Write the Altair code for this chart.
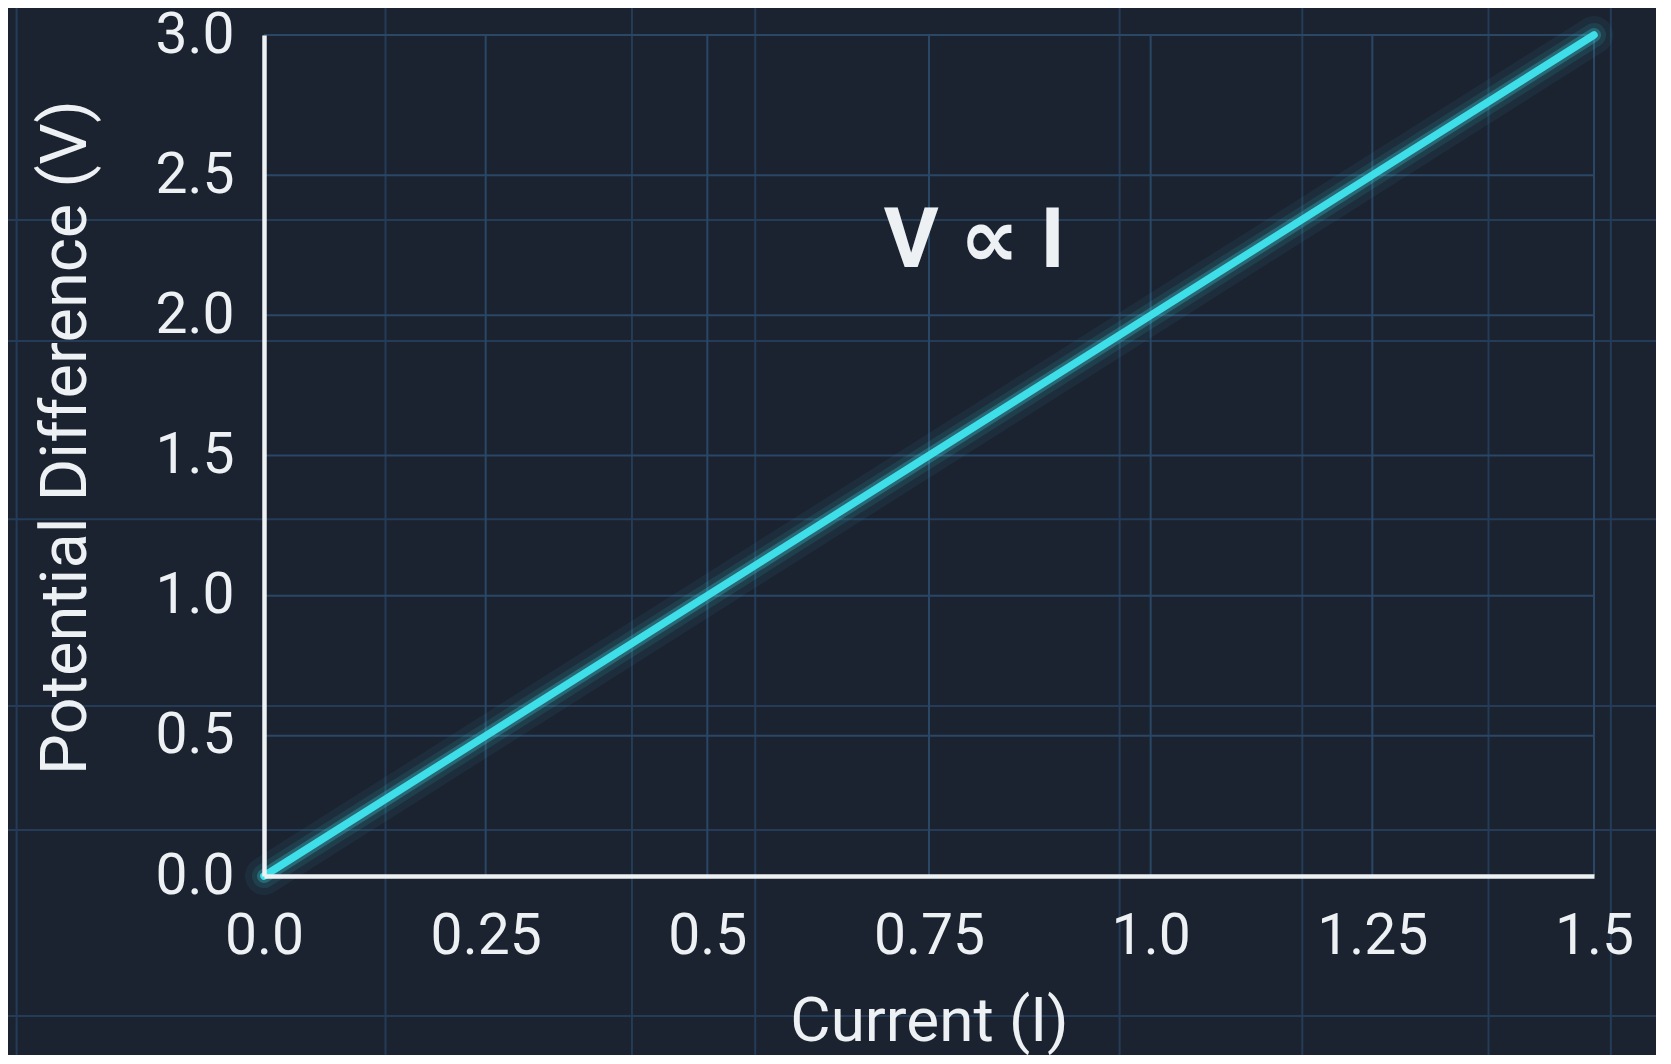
import altair as alt
import pandas as pd

# ---- data ----
current = [0.0, 0.25, 0.5, 0.75, 1.0, 1.25, 1.5]
voltage = [0.0, 0.5, 1.0, 1.5, 2.0, 2.5, 3.0]

x_ticks = [0.0, 0.25, 0.5, 0.75, 1.0, 1.25, 1.5]
x_tick_labels = ["0.0", "0.25", "0.5", "0.75", "1.0", "1.25", "1.5"]
y_ticks = [0.0, 0.5, 1.0, 1.5, 2.0, 2.5, 3.0]

# decorative blueprint grid behind the chart (data units)
bg_x = [-0.279, 0.137, 0.415, 0.554, 0.965, 1.171, 1.381, 1.519]
bg_y = [2.340, 1.908, 1.273, 0.606, 0.164, -0.499]

annotation = ["V ∝ I"]
annotation_x = [0.801]
annotation_y = [2.26]

BG = "#1b2331"
GRID = "#2a4766"
BGGRID = "#243c57"
CYAN = "#3fdfea"
WHITE = "#eef1f3"

line_df = pd.DataFrame({"I": current, "V": voltage})
bgx_df = pd.DataFrame({"x": bg_x})
bgy_df = pd.DataFrame({"y": bg_y})
gx_df = pd.DataFrame({"x": x_ticks})
gy_df = pd.DataFrame({"y": y_ticks})
ann_df = pd.DataFrame({"t": annotation, "x": annotation_x, "y": annotation_y})

label_expr = " : ".join(
    f"datum.value == {v} ? '{s}'" for v, s in zip(x_ticks, x_tick_labels)
) + " : ''"

xscale = alt.Scale(domain=[0, 1.5], nice=False, zero=False)
yscale = alt.Scale(domain=[0, 3.0], nice=False, zero=False)

x_enc = alt.X(
    "I:Q",
    scale=xscale,
    axis=alt.Axis(
        values=x_ticks,
        labelExpr=label_expr,
        title="Current (I)",
        grid=False,
        ticks=False,
        domainColor=WHITE,
        domainWidth=4.5,
        labelColor=WHITE,
        labelFont="Roboto",
        labelFontSize=57,
        labelPadding=32,
        labelFlush=False,
        titleColor=WHITE,
        titleFont="Roboto",
        titleFontSize=62,
        titleFontWeight="normal",
        titlePadding=27,
        zindex=1,
    ),
)
y_enc = alt.Y(
    "V:Q",
    scale=yscale,
    axis=alt.Axis(
        values=y_ticks,
        format=".1f",
        title="Potential Difference (V)",
        grid=False,
        ticks=False,
        domainColor=WHITE,
        domainWidth=4.5,
        labelColor=WHITE,
        labelFont="Roboto",
        labelFontSize=57,
        labelPadding=30,
        labelFlush=False,
        titleColor=WHITE,
        titleFont="Roboto",
        titleFontSize=65,
        titleFontWeight="normal",
        titlePadding=55,
        titleY=402,
        zindex=1,
    ),
)

# decorative background grid spanning the whole picture
bg_vert = alt.Chart(bgx_df).mark_rule(color=BGGRID, strokeWidth=2).encode(
    x=alt.X("x:Q", scale=xscale),
    y=alt.datum(3.3, scale=yscale),
    y2=alt.datum(-0.9),
)
bg_horz = alt.Chart(bgy_df).mark_rule(color=BGGRID, strokeWidth=2).encode(
    y=alt.Y("y:Q", scale=yscale),
    x=alt.datum(-0.35, scale=xscale),
    x2=alt.datum(1.7),
)

# plot gridlines at the tick values (drawn beneath the line)
grid_v = alt.Chart(gx_df).mark_rule(color=GRID, strokeWidth=2).encode(
    x=alt.X("x:Q", scale=xscale),
    y=alt.datum(3.0, scale=yscale),
    y2=alt.datum(0.0),
)
grid_h = alt.Chart(gy_df).mark_rule(color=GRID, strokeWidth=2).encode(
    y=alt.Y("y:Q", scale=yscale),
    x=alt.datum(0.0, scale=xscale),
    x2=alt.datum(1.5),
)

base = alt.Chart(line_df).encode(x=x_enc, y=y_enc)
glow1 = base.mark_line(color=CYAN, strokeWidth=38, opacity=0.06, strokeCap="round")
glow2 = base.mark_line(color=CYAN, strokeWidth=24, opacity=0.10, strokeCap="round")
glow3 = base.mark_line(color=CYAN, strokeWidth=14, opacity=0.25, strokeCap="round")
core = base.mark_line(color=CYAN, strokeWidth=7.5, strokeCap="round")

text = alt.Chart(ann_df).mark_text(
    font="Roboto, DejaVu Sans",
    fontSize=84,
    fontWeight="bold",
    color=WHITE,
    align="center",
    baseline="middle",
).encode(
    x=alt.X("x:Q", scale=xscale),
    y=alt.Y("y:Q", scale=yscale),
    text="t:N",
)

chart = (
    alt.layer(bg_vert, bg_horz, grid_v, grid_h, glow1, glow2, glow3, core, text)
    .properties(
        width=1330,
        height=841,
        background=BG,
        padding={"left": 256, "top": 27, "right": 62, "bottom": 179},
        autosize=alt.AutoSizeParams(type="none"),
    )
    .configure_view(stroke=None)
)

chart.save("out.html", embed_options={"renderer": "svg", "actions": False})
